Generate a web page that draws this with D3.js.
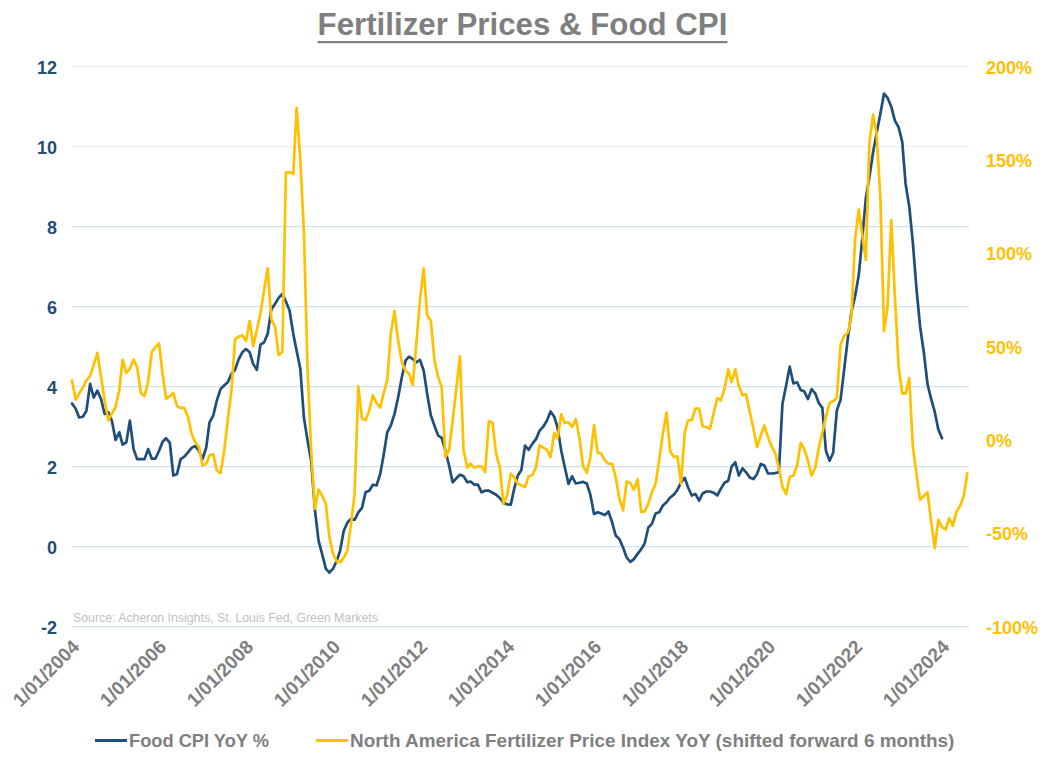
<!DOCTYPE html>
<html>
<head>
<meta charset="utf-8">
<script src="https://cdn.jsdelivr.net/npm/d3@7/dist/d3.min.js"></script>
<style>
  html, body { margin: 0; padding: 0; background: #ffffff; }
  svg { display: block; font-family: "Liberation Sans", Arial, sans-serif; }
</style>
</head>
<body>
<svg id="chart" width="1052" height="768"></svg>
<script>
// ---------------- DATA ----------------
const startMonth = "2004-01";
// Food CPI YoY % (monthly, Jan 2004 - Jan 2024)
const foodCpi = [
  3.58, 3.45, 3.23, 3.25, 3.4, 4.07, 3.73, 3.9, 3.69, 3.32, 3.36, 3.15,
  2.67, 2.86, 2.55, 2.61, 3.15, 2.44, 2.19, 2.19, 2.19, 2.44, 2.2, 2.2,
  2.4, 2.63, 2.71, 2.6, 1.78, 1.82, 2.19, 2.25, 2.36, 2.47, 2.52, 2.4,
  2.19, 2.48, 3.11, 3.28, 3.65, 3.94, 4.03, 4.11, 4.32, 4.42, 4.69, 4.86,
  4.94, 4.86, 4.57, 4.42, 5.05, 5.11, 5.32, 5.94, 6.07, 6.22, 6.32, 6.13,
  5.9, 5.32, 4.9, 4.45, 3.23, 2.65, 2.15, 0.94, 0.15, -0.18, -0.55, -0.65,
  -0.55, -0.35, -0.1, 0.4, 0.6, 0.7, 0.67, 0.86, 0.97, 1.36, 1.4, 1.55,
  1.53, 1.82, 2.28, 2.86, 3.03, 3.32, 3.73, 4.23, 4.65, 4.75, 4.69, 4.61,
  4.67, 4.4, 3.82, 3.28, 3.03, 2.78, 2.72, 2.4, 2.03, 1.61, 1.71, 1.8,
  1.76, 1.61, 1.63, 1.55, 1.55, 1.36, 1.4, 1.4, 1.35, 1.3, 1.22, 1.1,
  1.06, 1.05, 1.44, 1.78, 1.92, 2.53, 2.42, 2.57, 2.69, 2.9, 3.0, 3.15,
  3.38, 3.25, 2.98, 2.4, 1.98, 1.57, 1.76, 1.58, 1.6, 1.62, 1.58, 1.3,
  0.82, 0.86, 0.83, 0.79, 0.88, 0.61, 0.28, 0.19, -0.02, -0.27, -0.38, -0.31,
  -0.18, -0.06, 0.08, 0.48, 0.57, 0.83, 0.86, 1.03, 1.11, 1.23, 1.3, 1.42,
  1.61, 1.72, 1.48, 1.28, 1.32, 1.15, 1.33, 1.38, 1.38, 1.35, 1.28, 1.45,
  1.6, 1.65, 2.0, 2.11, 1.78, 1.96, 1.86, 1.73, 1.69, 1.82, 2.07, 2.03,
  1.83, 1.83, 1.84, 1.86, 3.57, 4.03, 4.5, 4.08, 4.11, 3.92, 3.88, 3.69,
  3.94, 3.83, 3.6, 3.47, 2.4, 2.15, 2.35, 3.41, 3.67, 4.42, 5.21, 5.86,
  6.26, 6.79, 7.66, 8.71, 9.24, 9.86, 10.34, 10.82, 11.33, 11.22, 11.0, 10.65,
  10.49, 10.12, 9.07, 8.5, 7.6, 6.43, 5.5, 4.86, 4.07, 3.7, 3.37, 2.93,
  2.71
];
// North America Fertilizer Price Index YoY % (shifted forward 6 months), Jan 2004 - Aug 2024
const fertilizer = [
  32, 21.7, 24.9, 28, 32, 34.2, 40.1, 46.7, 33.8, 21.3, 10.6, 14.2,
  17.7, 26.7, 43.1, 36, 38.3, 43.1, 38.9, 25.2, 23.5, 31.1, 47.2, 49.6,
  51.7, 34.7, 22.2, 23.5, 25.2, 18.1, 17.2, 17.2, 12.3, 3.4, -1.1, -3.8,
  -13.6, -12.7, -8.2, -7.7, -16.3, -17.7, -6.4, 10.6, 26.7, 53.9, 55.3, 56.2,
  53.1, 63.9, 50.3, 58.9, 67.8, 80.3, 92, 64.6, 60.6, 45.5, 47.2, 143.3,
  143.5, 142.6, 177.9, 150.1, 112, 38, -5.5, -36.8, -26.6, -29.7, -34.1, -52,
  -61, -65, -65.5, -63, -59.2, -44.9, -28.8, 28.8, 11.5, 10.6, 15.9, 24,
  19.9, 17.4, 24.9, 32, 57.1, 69.2, 53.5, 41.9, 37, 35.6, 29.4, 51.7,
  75, 92, 66.9, 63.9, 42.8, 33.8, 28.4, -9.1, -5.5, 10.6, 27.6, 44.9,
  -5.5, -14.8, -12.7, -14.8, -14.1, -14.1, -17.2, 10.2, 9.1, -7.3, -14.5, -34.1,
  -29.7, -18, -19.9, -23.4, -24.3, -25.2, -19.5, -18.9, -14.5, -2.8, -4.1, -5.2,
  -9.1, 3.8, 0.8, 13.8, 9.1, 9.5, 7, 11.3, 1, -14, -17.5, -9.5,
  7.9, -6.8, -7.3, -10.9, -12.7, -12.7, -19.9, -31.5, -37.7, -22.2, -23.1, -26.5,
  -21.1, -38.6, -38.3, -34.1, -27.9, -23.4, -10.9, 3.4, 14.7, -5.9, -9.1, -8.7,
  -23.4, 4.3, 10.6, 10.6, 16.9, 16.9, 7.4, 7, 6.1, 14.2, 22.5, 21.3,
  27.6, 37.8, 31.1, 37.9, 28.8, 24, 24.5, 15, 6.1, -3.8, 2.5, 7.8,
  1.5, -3.5, -7, -15, -25, -29, -19.8, -19, -13.8, -1.5, -5, -11,
  -19, -14.7, -4.5, 3.9, 12.3, 19.9, 20.8, 22.7, 51, 55.7, 57.5, 66,
  107.4, 123.5, 110.3, 96.5, 159.2, 174.3, 164, 130, 58.5, 71.7, 117.8, 77.3,
  39.7, 25, 25, 33.1, -3.6, -18.7, -31.9, -30, -28.1, -43.2, -57.9, -42.8,
  -46.6, -47.9, -41.9, -46, -38.5, -35.3, -30, -17.8
];
const leftTicks = [-2, 0, 2, 4, 6, 8, 10, 12];
const rightTicks = [-100, -50, 0, 50, 100, 150, 200];
const xTickYears = [2004, 2006, 2008, 2010, 2012, 2014, 2016, 2018, 2020, 2022, 2024];
const titleText = "Fertilizer Prices & Food CPI";
const seriesNames = ["Food CPI YoY %", "North America Fertilizer Price Index YoY (shifted forward 6 months)"];
const sourceText = "Source: Acheron Insights, St. Louis Fed, Green Markets";

// ---------------- CHART ----------------
const svg = d3.select("#chart");
const NAVY = "#1f4e79", GOLD = "#ffc000", GREY = "#7f7f7f";
const font = "'Liberation Sans', Arial, sans-serif";

// scale a text element's font size so that it spans the given width
function fitWidth(sel, target) {
  const fs = +sel.attr("font-size");
  const w = sel.node().getComputedTextLength();
  if (w > 0) sel.attr("font-size", fs * target / w);
  return sel;
}

const parseMonth = d3.timeParse("%Y-%m");
const t0 = parseMonth(startMonth);
const monthDate = i => d3.timeMonth.offset(t0, i);

const x = d3.scaleTime()
  .domain([t0, monthDate(fertilizer.length - 1)])
  .range([72, 967.4]);
const yL = d3.scaleLinear().domain([-2, 12]).range([626.7, 66.7]);
const yR = d3.scaleLinear().domain([-100, 200]).range([626.7, 66.7]);

// gridlines
svg.append("g").selectAll("line").data(leftTicks).join("line")
  .attr("x1", 72).attr("x2", 969)
  .attr("y1", d => yL(d)).attr("y2", d => yL(d))
  .attr("stroke", d => d >= 10 ? "#e3ecf6" : "#c6daef")
  .attr("stroke-width", 1);

// left axis
const gL = svg.append("g").attr("transform", "translate(57,0)")
  .call(d3.axisLeft(yL).tickValues(leftTicks).tickSize(0).tickPadding(0).tickFormat(d => String(d)));
gL.select(".domain").remove();
gL.selectAll("text").attr("fill", NAVY).attr("font-size", 18).attr("font-weight", "bold")
  .attr("font-family", font).attr("dy", "0.36em");

// right axis
const gR = svg.append("g").attr("transform", "translate(986,0)")
  .call(d3.axisRight(yR).tickValues(rightTicks).tickSize(0).tickPadding(0).tickFormat(d => String(d) + "%"));
gR.select(".domain").remove();
gR.selectAll("text").attr("fill", GOLD).attr("font-size", 18).attr("font-weight", "bold")
  .attr("font-family", font).attr("dy", "0.36em");

// bottom axis (rotated date labels)
const fmt = d3.timeFormat("%-m/%d/%Y");
const gX = svg.append("g").attr("transform", "translate(0,640)")
  .call(d3.axisBottom(x).tickValues(xTickYears.map(yr => new Date(yr, 0, 1)))
    .tickSize(0).tickPadding(0).tickFormat(fmt));
gX.select(".domain").remove();
gX.selectAll("text")
  .attr("fill", GREY).attr("font-size", 19).attr("font-weight", "bold").attr("font-family", font)
  .attr("text-anchor", "end")
  .attr("dy", "0")
  .attr("transform", "translate(8,8) rotate(-45)");

// source
const src = svg.append("text").attr("x", 73).attr("y", 622)
  .attr("font-size", 12).attr("fill", "#bfbfbf").attr("font-family", font)
  .text(sourceText);
fitWidth(src, 305);

// lines
const lineL = d3.line().x((d, i) => x(monthDate(i))).y(d => yL(d));
const lineR = d3.line().x((d, i) => x(monthDate(i))).y(d => yR(d));

svg.append("path").datum(foodCpi)
  .attr("fill", "none").attr("stroke", NAVY).attr("stroke-width", 2.7)
  .attr("stroke-linejoin", "round").attr("stroke-linecap", "round")
  .attr("d", lineL);
svg.append("path").datum(fertilizer)
  .attr("fill", "none").attr("stroke", GOLD).attr("stroke-width", 2.7)
  .attr("stroke-linejoin", "round").attr("stroke-linecap", "round")
  .attr("d", lineR);

// title
const title = svg.append("text").attr("x", 522.5).attr("y", 35)
  .attr("text-anchor", "middle").attr("font-size", 31).attr("font-weight", "bold")
  .attr("fill", GREY).attr("font-family", font).text(titleText);
fitWidth(title, 410);
const tw = title.node().getComputedTextLength();
svg.append("rect").attr("x", 522.5 - tw / 2).attr("y", 41).attr("width", tw).attr("height", 2.2)
  .attr("fill", GREY);

// legend
const legend = svg.append("g");
const legItems = [
  { name: seriesNames[0], color: NAVY, x0: 95, w: 140 },
  { name: seriesNames[1], color: GOLD, x0: 316, w: 605 }
];
legItems.forEach(it => {
  legend.append("line").attr("x1", it.x0).attr("x2", it.x0 + 32)
    .attr("y1", 740.5).attr("y2", 740.5).attr("stroke", it.color).attr("stroke-width", 3);
  const t = legend.append("text").attr("x", it.x0 + 34).attr("y", 747)
    .attr("font-size", 18).attr("font-weight", "bold").attr("fill", GREY)
    .attr("font-family", font).text(it.name);
  fitWidth(t, it.w);
});
</script>
</body>
</html>
